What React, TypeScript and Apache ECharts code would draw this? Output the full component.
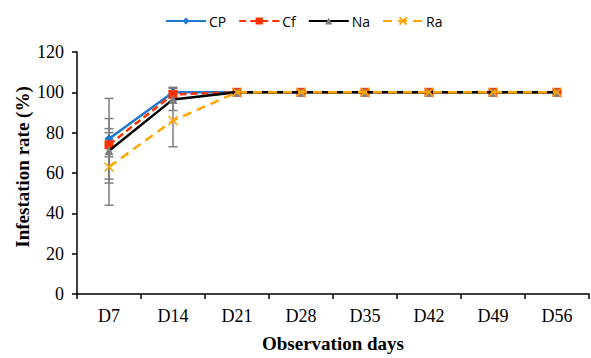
import React, { useEffect, useRef } from "react";
import * as echarts from "echarts";

const categories = ["D7", "D14", "D21", "D28", "D35", "D42", "D49", "D56"];
const cpValues = [77, 100, 100, 100, 100, 100, 100, 100];
const cfValues = [74, 99, 100, 100, 100, 100, 100, 100];
const naValues = [71, 96.5, 100, 100, 100, 100, 100, 100];
const raValues = [63, 86, 100, 100, 100, 100, 100, 100];
const cpErr = [20, 2.5, 0, 0, 0, 0, 0, 0];
const cfErr = [6, 1.8, 0, 0, 0, 0, 0, 0];
const naErr = [16, 5.5, 0, 0, 0, 0, 0, 0];
const raErr = [19, 13, 0, 0, 0, 0, 0, 0];

const xPath = "path://M0,0L10,10M10,0L0,10";

function errData(vals: number[], errs: number[]) {
  return vals
    .map((v, i) => [i, v - errs[i], v + errs[i]])
    .filter((_, i) => errs[i] > 0);
}

function errSeries(name: string, vals: number[], errs: number[]) {
  return {
    type: "custom",
    name: name + "-err",
    z: 1,
    silent: true,
    data: errData(vals, errs),
    encode: { x: 0, y: [1, 2] },
    renderItem: (params: any, api: any) => {
      const x = api.value(0);
      const lo = api.coord([x, api.value(1)]);
      const hi = api.coord([x, api.value(2)]);
      const w = 4.5;
      const style = { stroke: "#7f7f7f", lineWidth: 1.5 };
      return {
        type: "group",
        children: [
          { type: "line", shape: { x1: lo[0], y1: lo[1], x2: hi[0], y2: hi[1] }, style },
          { type: "line", shape: { x1: lo[0] - w, y1: lo[1], x2: lo[0] + w, y2: lo[1] }, style },
          { type: "line", shape: { x1: hi[0] - w, y1: hi[1], x2: hi[0] + w, y2: hi[1] }, style },
        ],
      };
    },
  };
}

export default function App() {
  const ref = useRef<HTMLDivElement>(null);
  useEffect(() => {
    if (!ref.current) return;
    const chart = echarts.init(ref.current, undefined, { renderer: "svg" });
    const serif = "Liberation Serif";
    chart.setOption({
      animation: false,
      backgroundColor: "#ffffff",
      grid: { left: 77, width: 512, top: 52, height: 248, containLabel: false },
      legend: {
        top: 9,
        left: 160,
        itemWidth: 40,
        itemHeight: 9,
        itemGap: 12,
        textStyle: { fontFamily: "Open Sans", fontSize: 14, color: "#000", padding: [0, 0, 0, -2] },
        data: ["CP", "Cf", "Na", "Ra"],
      },
      graphic: [
        {
          type: "text",
          x: 22,
          y: 167,
          rotation: Math.PI / 2,
          style: {
            text: "Infestation rate (%)",
            fontFamily: serif,
            fontSize: 19,
            fontWeight: "bold",
            fill: "#000",
            align: "center",
            verticalAlign: "middle",
          },
        },
      ],
      xAxis: {
        type: "category",
        data: categories,
        boundaryGap: true,
        name: "Observation days",
        nameLocation: "middle",
        nameGap: 40,
        nameTextStyle: { fontFamily: serif, fontSize: 19, fontWeight: "bold", color: "#000" },
        axisLine: { lineStyle: { color: "#000", width: 1.5 } },
        axisTick: { show: true, length: 5, lineStyle: { color: "#000", width: 1.5 } },
        axisLabel: { fontFamily: serif, fontSize: 18, color: "#000", margin: 13 },
        splitLine: { show: false },
      },
      yAxis: {
        type: "value",
        min: 0,
        max: 120,
        interval: 20,
        axisLine: { show: true, lineStyle: { color: "#000", width: 1.5 } },
        axisTick: { show: true, length: 5, lineStyle: { color: "#000", width: 1.5 } },
        axisLabel: { fontFamily: serif, fontSize: 18, color: "#000", margin: 13 },
        splitLine: { show: false },
      },
      series: [
        errSeries("CP", cpValues, cpErr),
        errSeries("Cf", cfValues, cfErr),
        errSeries("Na", naValues, naErr),
        errSeries("Ra", raValues, raErr),
        {
          type: "line",
          name: "CP",
          data: cpValues,
          z: 2,
          symbol: "diamond",
          symbolSize: 9,
          lineStyle: { color: "#1f77d0", width: 2.5 },
          itemStyle: { color: "#1f77d0" },
        },
        {
          type: "line",
          name: "Cf",
          data: cfValues,
          z: 3,
          symbol: "rect",
          symbolSize: 9,
          lineStyle: { color: "#ff3300", width: 2.5, type: [7, 4] },
          itemStyle: { color: "#ff3300" },
        },
        {
          type: "line",
          name: "Na",
          data: naValues,
          z: 4,
          symbol: "triangle",
          symbolSize: 9,
          lineStyle: { color: "#000000", width: 2.5 },
          itemStyle: { color: "#808080" },
        },
        {
          type: "line",
          name: "Ra",
          data: raValues,
          z: 5,
          symbol: xPath,
          symbolSize: 9,
          lineStyle: { color: "#ffa500", width: 2.5, type: [9, 6] },
          itemStyle: { color: "#ffa500", borderColor: "#ffa500", borderWidth: 1.5 },
        },
      ],
    });
    return () => chart.dispose();
  }, []);
  return <div ref={ref} style={{ width: 591, height: 358, position: "absolute", left: 0, top: 0 }} />;
}
